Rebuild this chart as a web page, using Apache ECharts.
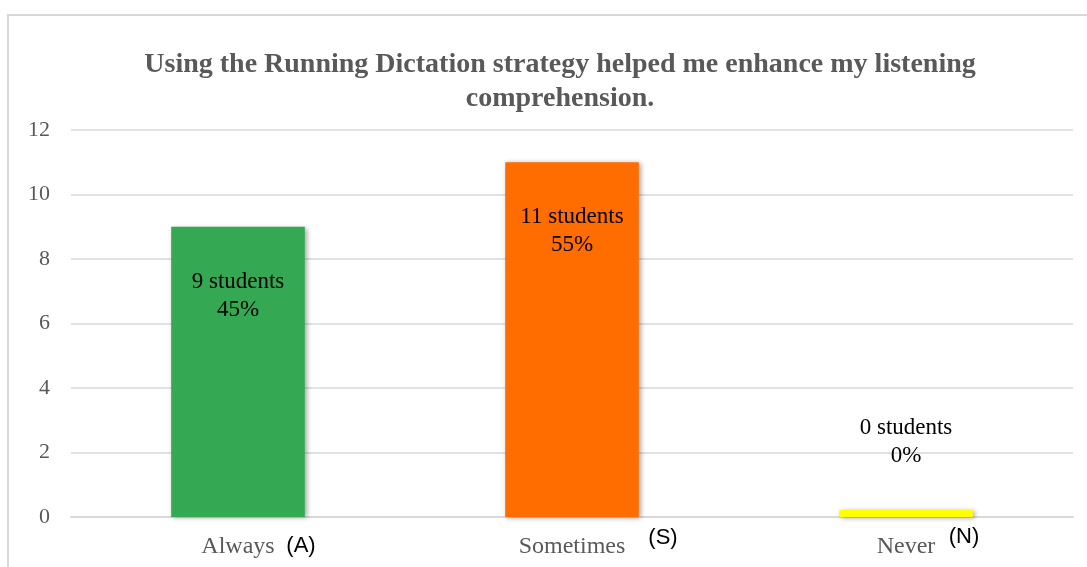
<!DOCTYPE html>
<html>
<head>
<meta charset="utf-8">
<script src="https://cdn.jsdelivr.net/npm/echarts@6/dist/echarts.min.js"></script>
<style>
  html, body { margin: 0; padding: 0; background: #fff; }
  #chart { width: 1087px; height: 567px; }
</style>
</head>
<body>
<div id="chart"></div>
<script>
// Survey answers for one questionnaire item
const titleText = 'Using the Running Dictation strategy helped me enhance my listening\ncomprehension.';
const categories = ['Always', 'Sometimes', 'Never'];
const codes = ['(A)', '(S)', '(N)'];
const students = [9, 11, 0];
const percents = ['45%', '55%', '0%'];
const barColors = ['#34a853', '#ff6d00', '#ffff00'];
const yTicks = [0, 2, 4, 6, 8, 10, 12];

// where each answer code sits relative to its category label (px)
const codeOffsets = [[63, 29], [91, 21], [58, 20]];

const serif = '"Liberation Serif", "Times New Roman", serif';
const sans = '"Liberation Sans", Arial, sans-serif';

const chart = echarts.init(document.getElementById('chart'));

const barData = students.map((v, i) => ({
  value: v,
  itemStyle: { color: barColors[i] },
  label: v > 0
    ? { position: 'insideTop', distance: 41 }
    : { position: 'top', distance: 40 }
}));

chart.setOption({
  animation: false,
  backgroundColor: '#fff',
  title: {
    text: titleText,
    left: 555,
    textAlign: 'center',
    top: 43,
    textStyle: {
      fontFamily: serif,
      fontSize: 28,
      fontWeight: 'bold',
      color: '#595959',
      lineHeight: 34
    }
  },
  grid: { left: 71, right: 14, top: 130, bottom: 50 },
  xAxis: {
    type: 'category',
    data: categories,
    axisTick: { show: false },
    axisLine: { lineStyle: { color: '#d9d9d9', width: 2 } },
    axisLabel: {
      margin: 18,
      fontFamily: serif,
      fontSize: 24,
      color: '#595959'
    }
  },
  yAxis: {
    type: 'value',
    min: yTicks[0],
    max: yTicks[yTicks.length - 1],
    interval: 2,
    axisLine: { show: false },
    axisTick: { show: false },
    axisLabel: {
      margin: 21,
      fontFamily: serif,
      fontSize: 22,
      color: '#595959'
    },
    splitLine: { lineStyle: { color: '#d9d9d9', width: 1.5 } }
  },
  series: [{
    type: 'bar',
    data: barData,
    barWidth: '40%',
    barMinHeight: 7,
    itemStyle: {
      shadowBlur: 5,
      shadowOffsetX: 2,
      shadowOffsetY: 1,
      shadowColor: 'rgba(0,0,0,0.35)'
    },
    label: {
      show: true,
      fontFamily: serif,
      fontSize: 23,
      color: '#000',
      lineHeight: 28,
      align: 'center',
      formatter: p => p.value + ' students\n' + percents[p.dataIndex]
    }
  }]
});

// frame around the chart plus the answer codes next to each category label
const baseY = chart.convertToPixel({ yAxisIndex: 0 }, yTicks[0]);
const graphics = [{
  type: 'rect',
  shape: { x: 8, y: 15, width: 1200, height: 700 },
  style: { fill: 'none', stroke: '#d9d9d9', lineWidth: 2 },
  silent: true,
  z: -1
}];
categories.forEach((c, i) => {
  const cx = chart.convertToPixel({ xAxisIndex: 0 }, c);
  graphics.push({
    type: 'text',
    x: cx + codeOffsets[i][0],
    y: baseY + codeOffsets[i][1],
    style: {
      text: codes[i],
      font: '22px ' + sans,
      fill: '#000',
      align: 'center',
      verticalAlign: 'middle'
    },
    silent: true
  });
});
chart.setOption({ graphic: graphics });
</script>
</body>
</html>
